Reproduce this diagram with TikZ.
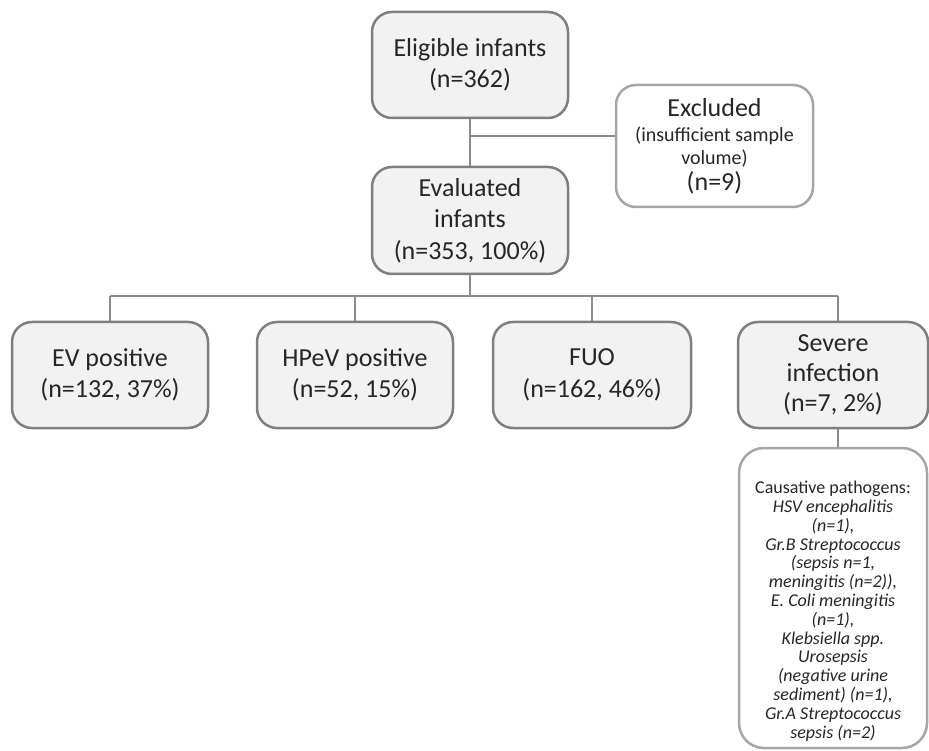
\documentclass[tikz,border=0pt]{standalone}
\usepackage{fontspec}
\setmainfont{Carlito}
\usetikzlibrary{backgrounds}
\definecolor{boxfill}{HTML}{F2F2F2}
\definecolor{boxborder}{HTML}{7F7F7F}
\definecolor{wborder}{HTML}{A6A6A6}
\definecolor{linecol}{HTML}{8C8C8C}
\definecolor{txt}{HTML}{262626}
\begin{document}
\begin{tikzpicture}[x=1pt,y=-1pt,
  box/.style={draw=boxborder, fill=boxfill, line width=2.5pt, rounded corners=20pt,
    minimum width=196pt, minimum height=106pt, align=center, text=txt,
    font=\fontsize{26}{31.5}\selectfont, inner sep=0pt},
  wbox/.style={draw=wborder, fill=white, line width=2.5pt, rounded corners=20pt,
    align=center, text=txt, inner sep=0pt},
  conn/.style={draw=linecol, line width=2pt}]
\useasboundingbox (0,0) rectangle (929,751);

\node[box] (elig) at (470,65) {Eligible infants\\(n=362)};
\node[box, minimum height=107pt] (eval) at (470,220.5) {Evaluated\\infants\\(n=353, 100\%)};
\node[wbox, minimum width=197pt, minimum height=122pt, font=\fontsize{26}{28}\selectfont] (excl) at (714.5,146)
  {Excluded\\[-3pt]{\fontsize{20}{21}\selectfont (insufficient sample}\\[-5pt]{\fontsize{20}{21}\selectfont volume)}\\[-2pt](n=9)};
\node[box] (ev) at (110,375) {EV positive\\(n=132, 37\%)};
\node[box] (hpev) at (355,375) {HPeV positive\\(n=52, 15\%)};
\node[box, minimum width=198pt] (fuo) at (592,375) {FUO\\(n=162, 46\%)};
\node[box, minimum width=190pt, font=\fontsize{26}{30}\selectfont] (sev) at (833,375) {Severe\\infection\\(n=7, 2\%)};
\node[wbox, minimum width=188pt, minimum height=300pt, rounded corners=25pt] (caus) at (833,598) {};
\node[text=txt, align=center, inner sep=0pt, anchor=north, font=\fontsize{18}{18.8}\selectfont] (caustxt) at (833,481)
  {Causative pathogens:\\ \itshape HSV encephalitis\\ \itshape (n=1),\\ \itshape Gr.B Streptococcus\\ \itshape (sepsis n=1,\\ \itshape meningitis (n=2)),\\ \itshape E. Coli meningitis\\ \itshape (n=1),\\ \itshape Klebsiella spp.\\ \itshape Urosepsis\\ \itshape (negative urine\\ \itshape sediment) (n=1),\\ \itshape Gr.A Streptococcus\\ \itshape sepsis (n=2)};

\coordinate (jx) at (470,136);
\coordinate (bus) at (470,296);
\coordinate (busL) at (110,296);
\coordinate (busR) at (838,296);
\begin{scope}[on background layer]
\draw[conn] (elig) -- (eval);
\draw[conn] (jx) -- (jx -| excl.west);
\draw[conn] (eval) -- (bus);
\draw[conn] (busL) -- (busR);
\draw[conn] (busL) -- (ev);
\draw[conn] (hpev.north |- bus) -- (hpev);
\draw[conn] (fuo.north |- bus) -- (fuo);
\draw[conn] (busR) -- (busR |- sev.north);
\draw[conn] (sev.south -| busR) -- (caus.north -| busR);
\end{scope}
\end{tikzpicture}
\end{document}
